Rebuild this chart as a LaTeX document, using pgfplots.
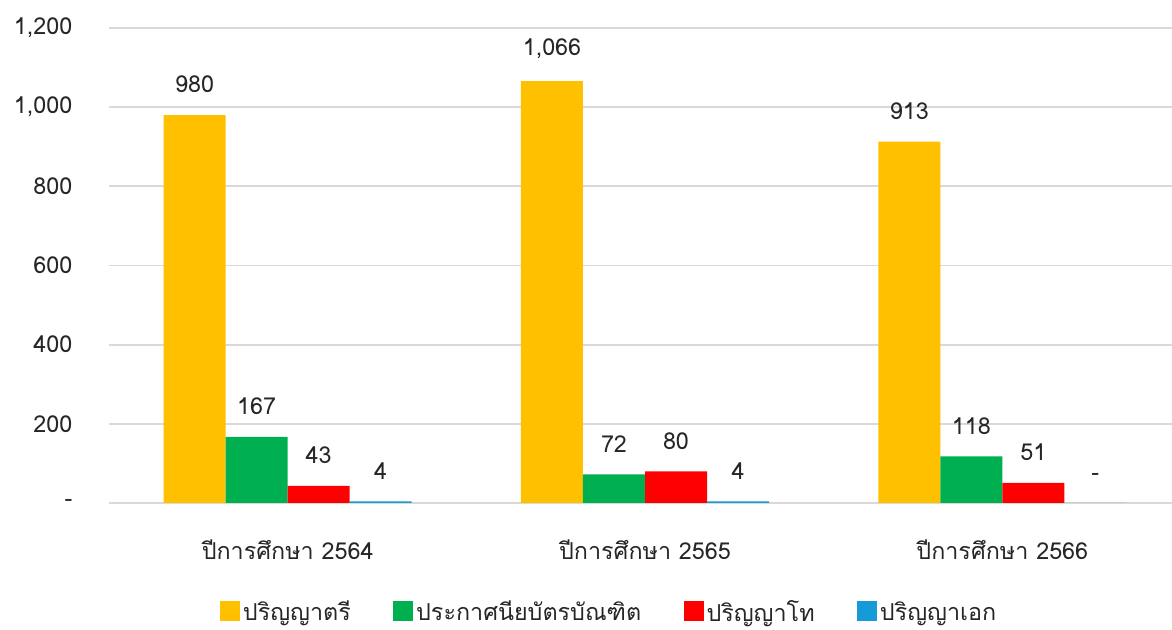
\documentclass[border=0pt]{standalone}
\usepackage{fontspec}
\setmainfont{Loma}[Script=Thai]
\usepackage{pgfplots}
\pgfplotsset{compat=1.18}
\definecolor{cyel}{HTML}{FFC000}
\definecolor{cgrn}{HTML}{00B050}
\definecolor{cred}{HTML}{FF0000}
\definecolor{cblu}{HTML}{159BD7}
\definecolor{gridc}{HTML}{D9D9D9}
\definecolor{txt}{HTML}{262626}
\pgfplotsset{
  sq/.style={legend image code/.code={\fill[##1] (0pt,-7pt) rectangle (15pt,8pt);}},
}
\begin{document}
\begin{tikzpicture}
\begin{axis}[
  at={(0,0)}, anchor=south west,
  scale only axis,
  width=804pt, height=356.25pt,
  xmin=-0.5, xmax=2.5,
  ymin=0, ymax=1200,
  ybar=0pt, bar width=46.5pt,
  axis x line*=bottom,
  axis y line*=left,
  y axis line style={draw=none},
  x axis line style={draw=gridc, line width=1.5pt},
  major tick length=0pt,
  ymajorgrids,
  grid style={draw=gridc, line width=1.4pt},
  ytick={0,200,400,600,800,1000,1200},
  yticklabels={-,200,400,600,800,{1,000},{1,200}},
  xtick={0,1,2},
  xticklabels={ปีการศึกษา 2564,ปีการศึกษา 2565,ปีการศึกษา 2566},
  tick label style={font=\fontsize{17.5}{20}\selectfont, text=txt},
  yticklabel style={xshift=-24pt},
  xticklabel style={yshift=-24pt},
  /pgf/number format/assume math mode=true,
  nodes near coords={\pgfmathfloatifflags{\pgfplotspointmeta}{0}{-}{\pgfmathprintnumber[1000 sep={,}]{\pgfplotspointmeta}}},
  every node near coord/.append style={font=\fontsize{17.5}{20}\selectfont, text=txt, yshift=13pt},
  legend columns=4,
  legend style={at={(0.467,-0.2295)}, anchor=center, draw=none, fill=none,
    font=\fontsize{17.5}{20}\selectfont, text=txt,
    /tikz/every even column/.append style={column sep=30pt}},
  clip=false,
]
\addplot[fill=cyel, draw=none, sq] coordinates {(0,980) (1,1066) (2,913)};
\addplot[fill=cgrn, draw=none, sq] coordinates {(0,167) (1,72) (2,118)};
\addplot[fill=cred, draw=none, sq] coordinates {(0,43) (1,80) (2,51)};
\addplot[fill=cblu, draw=none, sq] coordinates {(0,4) (1,4) (2,0)};
\legend{ปริญญาตรี,ประกาศนียบัตรบัณฑิต,ปริญญาโท,ปริญญาเอก}
\end{axis}
\pgfresetboundingbox
\useasboundingbox (-81.75pt,-95.25pt) rectangle (797.25pt,377.25pt);
\end{tikzpicture}
\end{document}
